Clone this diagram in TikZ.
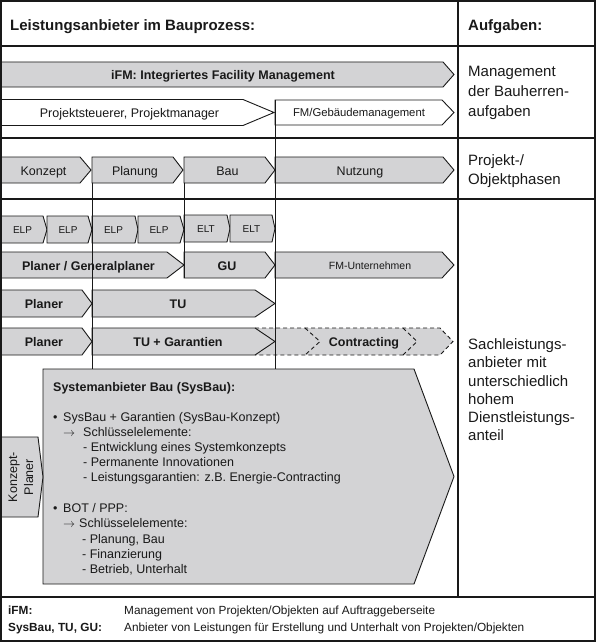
\documentclass[tikz,border=0pt]{standalone}
\usepackage{fontspec}
\setmainfont{Liberation Sans}
\definecolor{boxfill}{RGB}{211,211,213}
\definecolor{ink}{RGB}{25,25,25}
\tikzset{
  boxline/.style={draw=ink, line width=0.9pt, fill=boxfill, line join=miter},
  whitebox/.style={draw=ink, line width=0.9pt, fill=white, line join=miter},
  dashline/.style={draw=ink, line width=0.9pt, dash pattern=on 4pt off 3pt},
  frameline/.style={draw=ink, line width=1.7pt},
  guide/.style={draw=ink, line width=1pt},
  lbl/.style={anchor=base, inner sep=0pt, text=ink, font=\fontsize{12.5}{15}\selectfont},
  lblb/.style={lbl, font=\fontsize{12.5}{15}\selectfont\bfseries},
  small/.style={lbl, font=\fontsize{10}{12}\selectfont},
  side/.style={anchor=base west, inner sep=0pt, text=ink, font=\fontsize{15}{18}\selectfont},
  sideb/.style={side, font=\fontsize{15}{18}\selectfont\bfseries},
  sysl/.style={anchor=base west, inner sep=0pt, text=ink, font=\fontsize{12.5}{15}\selectfont},
  legl/.style={anchor=base west, inner sep=0pt, text=ink, font=\fontsize{11.8}{14}\selectfont},
}
\newcommand{\chev}[6][boxline]{\path[#1] (#2,#3) -- (#4,#3) -- (#5,{(#3+#6)/2}) -- (#4,#6) -- (#2,#6) -- cycle;}
\begin{document}
\begin{tikzpicture}[x=1pt,y=-1pt]
\useasboundingbox (0,0) rectangle (596,642);
\fill[white] (0,0) rectangle (596,642);

% title row
\node[sideb] (title) at (10,31) {Leistungsanbieter im Bauprozess:};
\node[sideb] (aufg) at (468,31) {Aufgaben:};

% management rows
\chev{1}{62}{443}{454}{87}
\node[lblb] (ifm) at (223,79) {iFM: Integriertes Facility Management};
\chev[whitebox]{1}{99.5}{243}{274}{125.5}
\node[lbl] (ps) at (129.5,117) {Projektsteuerer, Projektmanager};
\chev[whitebox]{275}{100}{442}{454}{125}
\node[lbl, font=\fontsize{11.3}{13}\selectfont] (fmg) at (359,116.5) {FM/Gebäudemanagement};

% phases
\chev{1}{157}{80}{91}{183}
\chev{92}{157}{173}{183}{183}
\chev{184}{157}{265}{275}{183}
\chev{275}{157}{443}{454}{183}
\node[lbl] (konz) at (43.5,175) {Konzept};
\node[lbl] (plan) at (135,175) {Planung};
\node[lbl] (bau) at (227.5,175) {Bau};
\node[lbl] (nutz) at (360,175) {Nutzung};

% ELP / ELT
\chev{1}{216}{43}{47}{243}
\chev{47}{216}{88}{92}{243}
\chev{92}{216}{135}{138}{243}
\chev{138}{216}{180}{184}{243}
\chev{184}{215}{227}{230}{242}
\chev{230}{215}{272}{275}{242}
\node[small] (elp1) at (22.5,233.5) {ELP};
\node[small] (elp2) at (68,233.5) {ELP};
\node[small] (elp3) at (113.5,233.5) {ELP};
\node[small] (elp4) at (159,233.5) {ELP};
\node[small] (elt1) at (206,232.5) {ELT};
\node[small] (elt2) at (251.5,232.5) {ELT};

% providers
\chev{1}{252}{167}{184}{278}
\chev{184}{252}{265}{275}{278}
\chev{275}{252}{442}{454}{278}
\node[lblb] (pgp) at (88.5,270) {Planer / Generalplaner};
\node[lblb] (gu) at (227,270) {GU};
\node[lbl, font=\fontsize{10.5}{12}\selectfont] (fmu) at (370,269) {FM-Unternehmen};

\chev{1}{290}{82}{92}{317}
\chev{92}{290}{255}{275}{317}
\node[lblb] (pl1) at (44,308.5) {Planer};
\node[lblb] (tu) at (178,308.5) {TU};

% contracting (dashed)
\fill[boxfill] (255,328) -- (440,328) -- (453,341.5) -- (440,355) -- (255,355) -- cycle;
\draw[dashline] (255,328) -- (440,328) -- (453,341.5) -- (440,355) -- (255,355);
\draw[dashline] (305,328) -- (320,341.5) -- (305,355);
\draw[dashline] (403,328) -- (417,341.5) -- (403,355);
\node[lblb] (contr) at (364,346.5) {Contracting};

\chev{1}{328}{82}{92}{355}
\chev{92}{328}{255}{275}{355}
\node[lblb] (pl2) at (44,346.5) {Planer};
\node[lblb] (tug) at (178,346.5) {TU + Garantien};

% SysBau
\chev{43}{369}{414}{454}{584}
\node[sysl, font=\fontsize{12.5}{15}\selectfont\bfseries] (sys) at (53,391) {Systemanbieter Bau (SysBau):};
\node[sysl] (s1) at (53,421) {\textbullet};
\node[sysl] (s1t) at (63,421) {SysBau + Garantien (SysBau-Konzept)};
\node[sysl] (s2) at (63,436) {$\rightarrow$};
\node[sysl] (s2t) at (83,436) {Schlüsselelemente:};
\node[sysl] (s3) at (83,451) {- Entwicklung eines Systemkonzepts};
\node[sysl] (s4) at (83,466) {- Permanente Innovationen};
\node[sysl] (s5) at (83,481) {- Leistungsgarantien: z.B. Energie-Contracting};
\node[sysl] (b1) at (53,512) {\textbullet};
\node[sysl] (b1t) at (63,512) {BOT / PPP:};
\node[sysl] (b2) at (63,527) {$\rightarrow$};
\node[sysl] (b2t) at (79,527) {Schlüsselelemente:};
\node[sysl] (b3) at (82,543) {- Planung, Bau};
\node[sysl] (b4) at (82,558) {- Finanzierung};
\node[sysl] (b5) at (82,573) {- Betrieb, Unterhalt};

% Konzept-Planer
\chev{1}{437}{38}{43}{517}
\node[rotate=90, align=center, inner sep=0pt, text=ink, font=\fontsize{12.5}{16}\selectfont] (kp) at (21,477) {Konzept-\\Planer};

% right column texts
\node[side] (m1) at (468,77) {Management};
\node[side] (m2) at (468,96.5) {der Bauherren-};
\node[side] (m3) at (468,116) {aufgaben};
\node[side] (p1) at (468,165) {Projekt-/};
\node[side] (p2) at (468,184) {Objektphasen};
\node[side] (a1) at (468,349) {Sachleistungs-};
\node[side] (a2) at (468,367) {anbieter mit};
\node[side] (a3) at (468,386) {unterschiedlich};
\node[side] (a4) at (468,404) {hohem};
\node[side] (a5) at (468,422) {Dienstleistungs-};
\node[side] (a6) at (468,440) {anteil};

% legend
\node[legl, font=\fontsize{11.8}{14}\selectfont\bfseries] (l1) at (8,614) {iFM:};
\node[legl] (l1t) at (124,614) {Management von Projekten/Objekten auf Auftraggeberseite};
\node[legl, font=\fontsize{11.8}{14}\selectfont\bfseries] (l2) at (8,631.5) {SysBau, TU, GU:};
\node[legl] (l2t) at (124,631.5) {Anbieter von Leistungen für Erstellung und Unterhalt von Projekten/Objekten};

% guide lines
\coordinate (g1a) at (92,183); \coordinate (g1b) at (92,369);
\coordinate (g2a) at (184,183); \coordinate (g2b) at (184,278);
\coordinate (g3a) at (275,100); \coordinate (g3b) at (275,369);
\draw[guide] (g1a) -- (g1b);
\draw[guide] (g2a) -- (g2b);
\draw[guide] (g3a) -- (g3b);

% frame and section lines
\draw[frameline] (0,46) -- (596,46);
\draw[frameline] (0,138) -- (596,138);
\draw[frameline] (0,199) -- (596,199);
\draw[frameline] (0,597) -- (596,597);
\draw[frameline] (458,0) -- (458,597);
\draw[frameline] (1,1) rectangle (595,641);
\end{tikzpicture}
\end{document}
